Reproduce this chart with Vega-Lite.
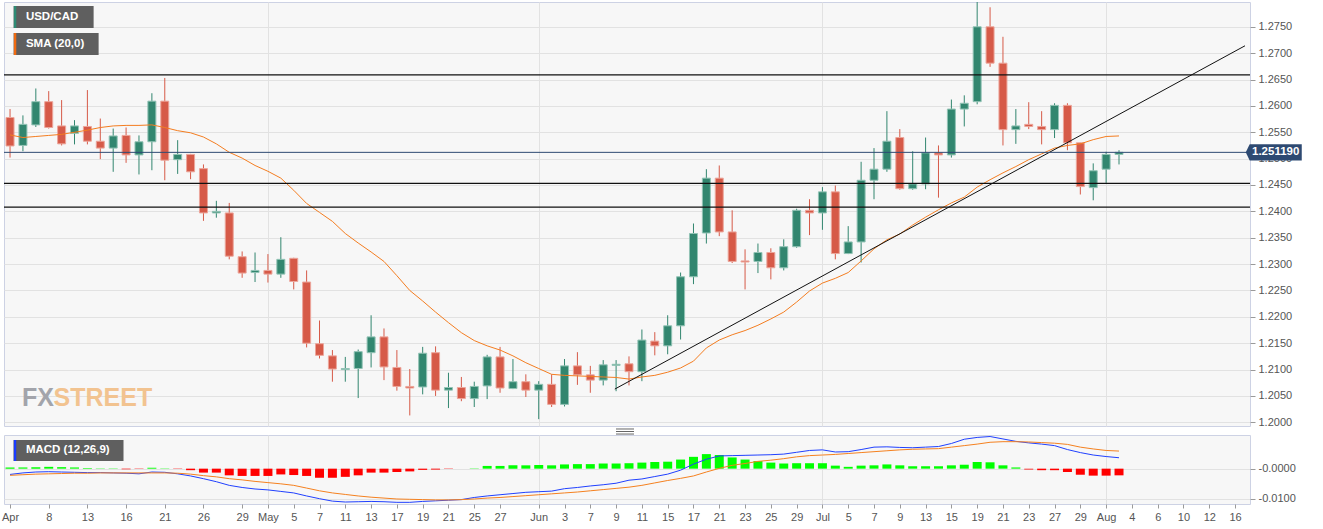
{
"$schema":"https://vega.github.io/schema/vega-lite/v6.json",
"background":"#ffffff",
"padding":{"left":0,"top":1,"right":0,"bottom":0},
"spacing":9,
"bounds":"flush",
"config":{
 "view":{"fill":"#f7f7f7","stroke":"#cdd2e4"},
 "axis":{"labelFont":"Liberation Sans","labelFontSize":11,"labelColor":"#555555","tickColor":"#9a9a9a","gridColor":"#e2e2e2","labelOverlap":false},
 "text":{"font":"Liberation Sans"}
},
"datasets":{
"d":[
{"i":0,"o":1.2578,"h":1.2594,"l":1.2502,"c":1.2524,"s":1.2545,"m":-0.0019,"g":-0.0022,"hist":0.0004},
{"i":1,"o":1.2525,"h":1.2582,"l":1.2514,"c":1.2565,"s":1.2540,"m":-0.0014,"g":-0.0020,"hist":0.0004},
{"i":2,"o":1.2564,"h":1.2633,"l":1.2560,"c":1.2608,"s":1.2542,"m":-0.0011,"g":-0.0018,"hist":0.0005},
{"i":3,"o":1.2608,"h":1.2628,"l":1.2557,"c":1.2559,"s":1.2544,"m":-0.0010,"g":-0.0017,"hist":0.0006},
{"i":4,"o":1.2562,"h":1.2611,"l":1.2525,"c":1.2528,"s":1.2546,"m":-0.0011,"g":-0.0016,"hist":0.0005},
{"i":5,"o":1.2548,"h":1.2573,"l":1.2527,"c":1.2562,"s":1.2550,"m":-0.0012,"g":-0.0015,"hist":0.0004},
{"i":6,"o":1.2561,"h":1.2630,"l":1.2527,"c":1.2533,"s":1.2554,"m":-0.0013,"g":-0.0015,"hist":0.0002},
{"i":7,"o":1.2533,"h":1.2576,"l":1.2499,"c":1.2520,"s":1.2559,"m":-0.0013,"g":-0.0014,"hist":0.0001},
{"i":8,"o":1.2520,"h":1.2557,"l":1.2475,"c":1.2543,"s":1.2562,"m":-0.0014,"g":-0.0014,"hist":0.0001},
{"i":9,"o":1.2544,"h":1.2559,"l":1.2492,"c":1.2507,"s":1.2563,"m":-0.0015,"g":-0.0014,"hist":-0.0002},
{"i":10,"o":1.2507,"h":1.2544,"l":1.2470,"c":1.2532,"s":1.2563,"m":-0.0017,"g":-0.0014,"hist":-0.0001},
{"i":11,"o":1.2532,"h":1.2624,"l":1.2478,"c":1.2609,"s":1.2564,"m":-0.0011,"g":-0.0014,"hist":0.0003},
{"i":12,"o":1.2609,"h":1.2653,"l":1.2459,"c":1.2497,"s":1.2559,"m":-0.0012,"g":-0.0014,"hist":0.0001},
{"i":13,"o":1.2498,"h":1.2535,"l":1.2471,"c":1.2508,"s":1.2553,"m":-0.0017,"g":-0.0015,"hist":-0.0001},
{"i":14,"o":1.2508,"h":1.2509,"l":1.2461,"c":1.2475,"s":1.2549,"m":-0.0024,"g":-0.0018,"hist":-0.0005},
{"i":15,"o":1.2481,"h":1.2489,"l":1.2382,"c":1.2397,"s":1.2541,"m":-0.0033,"g":-0.0023,"hist":-0.0013},
{"i":16,"o":1.2397,"h":1.2420,"l":1.2388,"c":1.2400,"s":1.2528,"m":-0.0043,"g":-0.0027,"hist":-0.0013},
{"i":17,"o":1.2397,"h":1.2416,"l":1.2309,"c":1.2315,"s":1.2512,"m":-0.0055,"g":-0.0033,"hist":-0.0022},
{"i":18,"o":1.2314,"h":1.2324,"l":1.2274,"c":1.2283,"s":1.2501,"m":-0.0062,"g":-0.0037,"hist":-0.0024},
{"i":19,"o":1.2284,"h":1.2322,"l":1.2266,"c":1.2288,"s":1.2487,"m":-0.0067,"g":-0.0042,"hist":-0.0024},
{"i":20,"o":1.2288,"h":1.2319,"l":1.2265,"c":1.2281,"s":1.2476,"m":-0.0070,"g":-0.0046,"hist":-0.0024},
{"i":21,"o":1.2281,"h":1.2351,"l":1.2274,"c":1.2309,"s":1.2463,"m":-0.0075,"g":-0.0050,"hist":-0.0019},
{"i":22,"o":1.2311,"h":1.2312,"l":1.2252,"c":1.2267,"s":1.2440,"m":-0.0080,"g":-0.0055,"hist":-0.0021},
{"i":23,"o":1.2266,"h":1.2288,"l":1.2142,"c":1.2150,"s":1.2415,"m":-0.0090,"g":-0.0064,"hist":-0.0024},
{"i":24,"o":1.2149,"h":1.2193,"l":1.2121,"c":1.2127,"s":1.2398,"m":-0.0099,"g":-0.0073,"hist":-0.0030},
{"i":25,"o":1.2126,"h":1.2137,"l":1.2077,"c":1.2101,"s":1.2381,"m":-0.0107,"g":-0.0080,"hist":-0.0030},
{"i":26,"o":1.2100,"h":1.2124,"l":1.2077,"c":1.2102,"s":1.2358,"m":-0.0110,"g":-0.0085,"hist":-0.0027},
{"i":27,"o":1.2102,"h":1.2138,"l":1.2046,"c":1.2134,"s":1.2340,"m":-0.0109,"g":-0.0090,"hist":-0.0022},
{"i":28,"o":1.2132,"h":1.2203,"l":1.2104,"c":1.2162,"s":1.2323,"m":-0.0108,"g":-0.0094,"hist":-0.0013},
{"i":29,"o":1.2162,"h":1.2178,"l":1.2080,"c":1.2105,"s":1.2305,"m":-0.0109,"g":-0.0097,"hist":-0.0013},
{"i":30,"o":1.2104,"h":1.2137,"l":1.2060,"c":1.2068,"s":1.2278,"m":-0.0111,"g":-0.0100,"hist":-0.0011},
{"i":31,"o":1.2068,"h":1.2101,"l":1.2013,"c":1.2065,"s":1.2250,"m":-0.0111,"g":-0.0101,"hist":-0.0009},
{"i":32,"o":1.2067,"h":1.2143,"l":1.2053,"c":1.2131,"s":1.2230,"m":-0.0108,"g":-0.0102,"hist":-0.0004},
{"i":33,"o":1.2132,"h":1.2144,"l":1.2050,"c":1.2061,"s":1.2209,"m":-0.0106,"g":-0.0103,"hist":-0.0003},
{"i":34,"o":1.2061,"h":1.2094,"l":1.2027,"c":1.2066,"s":1.2189,"m":-0.0104,"g":-0.0103,"hist":-0.0001},
{"i":35,"o":1.2066,"h":1.2086,"l":1.2040,"c":1.2045,"s":1.2170,"m":-0.0102,"g":-0.0102,"hist":0.0000},
{"i":36,"o":1.2045,"h":1.2077,"l":1.2029,"c":1.2068,"s":1.2155,"m":-0.0095,"g":-0.0100,"hist":0.0001},
{"i":37,"o":1.2069,"h":1.2128,"l":1.2044,"c":1.2124,"s":1.2145,"m":-0.0090,"g":-0.0097,"hist":0.0009},
{"i":38,"o":1.2124,"h":1.2143,"l":1.2056,"c":1.2065,"s":1.2137,"m":-0.0086,"g":-0.0095,"hist":0.0009},
{"i":39,"o":1.2064,"h":1.2120,"l":1.2063,"c":1.2077,"s":1.2126,"m":-0.0082,"g":-0.0092,"hist":0.0011},
{"i":40,"o":1.2077,"h":1.2091,"l":1.2048,"c":1.2061,"s":1.2113,"m":-0.0078,"g":-0.0089,"hist":0.0011},
{"i":41,"o":1.2061,"h":1.2078,"l":1.2006,"c":1.2072,"s":1.2102,"m":-0.0076,"g":-0.0086,"hist":0.0012},
{"i":42,"o":1.2072,"h":1.2091,"l":1.2029,"c":1.2034,"s":1.2091,"m":-0.0074,"g":-0.0083,"hist":0.0011},
{"i":43,"o":1.2034,"h":1.2120,"l":1.2030,"c":1.2107,"s":1.2089,"m":-0.0066,"g":-0.0080,"hist":0.0014},
{"i":44,"o":1.2107,"h":1.2133,"l":1.2071,"c":1.2090,"s":1.2088,"m":-0.0062,"g":-0.0077,"hist":0.0015},
{"i":45,"o":1.2090,"h":1.2107,"l":1.2056,"c":1.2080,"s":1.2087,"m":-0.0057,"g":-0.0073,"hist":0.0015},
{"i":46,"o":1.2080,"h":1.2118,"l":1.2070,"c":1.2109,"s":1.2086,"m":-0.0053,"g":-0.0069,"hist":0.0017},
{"i":47,"o":1.2108,"h":1.2118,"l":1.2059,"c":1.2110,"s":1.2085,"m":-0.0048,"g":-0.0065,"hist":0.0017},
{"i":48,"o":1.2111,"h":1.2125,"l":1.2070,"c":1.2096,"s":1.2082,"m":-0.0038,"g":-0.0061,"hist":0.0018},
{"i":49,"o":1.2096,"h":1.2176,"l":1.2078,"c":1.2156,"s":1.2086,"m":-0.0034,"g":-0.0055,"hist":0.0020},
{"i":50,"o":1.2154,"h":1.2171,"l":1.2127,"c":1.2145,"s":1.2089,"m":-0.0026,"g":-0.0047,"hist":0.0022},
{"i":51,"o":1.2145,"h":1.2203,"l":1.2129,"c":1.2183,"s":1.2095,"m":-0.0018,"g":-0.0039,"hist":0.0023},
{"i":52,"o":1.2183,"h":1.2284,"l":1.2157,"c":1.2276,"s":1.2103,"m":-0.0005,"g":-0.0032,"hist":0.0030},
{"i":53,"o":1.2276,"h":1.2377,"l":1.2262,"c":1.2358,"s":1.2116,"m":0.0015,"g":-0.0024,"hist":0.0039},
{"i":54,"o":1.2359,"h":1.2480,"l":1.2339,"c":1.2463,"s":1.2141,"m":0.0031,"g":-0.0011,"hist":0.0048},
{"i":55,"o":1.2463,"h":1.2487,"l":1.2353,"c":1.2361,"s":1.2156,"m":0.0042,"g":0.0001,"hist":0.0045},
{"i":56,"o":1.2361,"h":1.2402,"l":1.2302,"c":1.2305,"s":1.2166,"m":0.0043,"g":0.0011,"hist":0.0037},
{"i":57,"o":1.2306,"h":1.2328,"l":1.2252,"c":1.2304,"s":1.2174,"m":0.0044,"g":0.0017,"hist":0.0030},
{"i":58,"o":1.2305,"h":1.2339,"l":1.2283,"c":1.2322,"s":1.2184,"m":0.0045,"g":0.0024,"hist":0.0025},
{"i":59,"o":1.2322,"h":1.2330,"l":1.2271,"c":1.2293,"s":1.2196,"m":0.0046,"g":0.0028,"hist":0.0020},
{"i":60,"o":1.2293,"h":1.2347,"l":1.2288,"c":1.2333,"s":1.2209,"m":0.0048,"g":0.0033,"hist":0.0017},
{"i":61,"o":1.2333,"h":1.2405,"l":1.2331,"c":1.2402,"s":1.2228,"m":0.0054,"g":0.0039,"hist":0.0018},
{"i":62,"o":1.2402,"h":1.2423,"l":1.2355,"c":1.2397,"s":1.2249,"m":0.0060,"g":0.0043,"hist":0.0018},
{"i":63,"o":1.2397,"h":1.2446,"l":1.2365,"c":1.2437,"s":1.2264,"m":0.0062,"g":0.0045,"hist":0.0018},
{"i":64,"o":1.2437,"h":1.2449,"l":1.2309,"c":1.2320,"s":1.2273,"m":0.0055,"g":0.0047,"hist":0.0010},
{"i":65,"o":1.2320,"h":1.2372,"l":1.2319,"c":1.2342,"s":1.2284,"m":0.0056,"g":0.0050,"hist":0.0006},
{"i":66,"o":1.2342,"h":1.2494,"l":1.2303,"c":1.2459,"s":1.2306,"m":0.0063,"g":0.0053,"hist":0.0010},
{"i":67,"o":1.2459,"h":1.2520,"l":1.2423,"c":1.2480,"s":1.2329,"m":0.0071,"g":0.0056,"hist":0.0011},
{"i":68,"o":1.2480,"h":1.2590,"l":1.2475,"c":1.2533,"s":1.2346,"m":0.0072,"g":0.0059,"hist":0.0014},
{"i":69,"o":1.2540,"h":1.2556,"l":1.2441,"c":1.2443,"s":1.2357,"m":0.0070,"g":0.0062,"hist":0.0011},
{"i":70,"o":1.2443,"h":1.2514,"l":1.2441,"c":1.2452,"s":1.2374,"m":0.0069,"g":0.0064,"hist":0.0008},
{"i":71,"o":1.2452,"h":1.2540,"l":1.2442,"c":1.2511,"s":1.2389,"m":0.0071,"g":0.0065,"hist":0.0008},
{"i":72,"o":1.2511,"h":1.2525,"l":1.2426,"c":1.2507,"s":1.2403,"m":0.0073,"g":0.0066,"hist":0.0008},
{"i":73,"o":1.2507,"h":1.2612,"l":1.2502,"c":1.2594,"s":1.2416,"m":0.0083,"g":0.0071,"hist":0.0011},
{"i":74,"o":1.2594,"h":1.2620,"l":1.2561,"c":1.2605,"s":1.2427,"m":0.0097,"g":0.0076,"hist":0.0013},
{"i":75,"o":1.2608,"h":1.2807,"l":1.2603,"c":1.2750,"s":1.2446,"m":0.0103,"g":0.0081,"hist":0.0022},
{"i":76,"o":1.2750,"h":1.2787,"l":1.2674,"c":1.2681,"s":1.2460,"m":0.0106,"g":0.0087,"hist":0.0021},
{"i":77,"o":1.2681,"h":1.2731,"l":1.2525,"c":1.2555,"s":1.2473,"m":0.0098,"g":0.0089,"hist":0.0011},
{"i":78,"o":1.2555,"h":1.2594,"l":1.2528,"c":1.2562,"s":1.2485,"m":0.0090,"g":0.0089,"hist":0.0004},
{"i":79,"o":1.2565,"h":1.2607,"l":1.2556,"c":1.2561,"s":1.2498,"m":0.0085,"g":0.0088,"hist":-0.0003},
{"i":80,"o":1.2561,"h":1.2590,"l":1.2527,"c":1.2555,"s":1.2509,"m":0.0081,"g":0.0086,"hist":-0.0005},
{"i":81,"o":1.2555,"h":1.2605,"l":1.2539,"c":1.2601,"s":1.2520,"m":0.0076,"g":0.0084,"hist":-0.0005},
{"i":82,"o":1.2601,"h":1.2605,"l":1.2516,"c":1.2530,"s":1.2525,"m":0.0063,"g":0.0080,"hist":-0.0011},
{"i":83,"o":1.2530,"h":1.2530,"l":1.2432,"c":1.2447,"s":1.2528,"m":0.0053,"g":0.0071,"hist":-0.0020},
{"i":84,"o":1.2445,"h":1.2491,"l":1.2421,"c":1.2477,"s":1.2536,"m":0.0045,"g":0.0065,"hist":-0.0023},
{"i":85,"o":1.2480,"h":1.2513,"l":1.2454,"c":1.2508,"s":1.2542,"m":0.0040,"g":0.0060,"hist":-0.0023},
{"i":86,"o":1.2508,"h":1.2516,"l":1.2489,"c":1.2512,"s":1.2543,"m":0.0036,"g":0.0058,"hist":-0.0022}
],
"trend":[{"i":46.9,"p":1.2063},{"i":95.77,"p":1.2714}],
"levels":[{"p":1.2659},{"p":1.2453},{"p":1.2408}],
"price":[{"p":1.25119,"t":"1.251190"}]
},
"vconcat":[
{
 "width":1246,"height":424,
 "layer":[
  {"data":{"name":"d"},
   "mark":{"type":"rule","clip":true,"strokeWidth":1},
   "encoding":{
    "x":{"field":"i","type":"quantitative","scale":{"domain":[-0.08,95.77]},"axis":{"values":[20,41,63,85],"tickCount":100,"labels":false,"ticks":false,"domain":false,"grid":true,"title":null}},
    "y":{"field":"l","type":"quantitative","scale":{"domain":[1.1993,1.2797]},"axis":{"orient":"right","values":[1.2,1.205,1.21,1.215,1.22,1.225,1.23,1.235,1.24,1.245,1.25,1.255,1.26,1.265,1.27,1.275],"tickCount":100,"format":".4f","tickSize":5,"labelPadding":3,"domain":false,"grid":true,"labelOverlap":false,"title":null}},
    "y2":{"field":"h"},
    "color":{"condition":{"test":"datum.c >= datum.o","value":"#32866f"},"value":"#d65a48"}
   }},
  {"data":{"name":"d"},
   "mark":{"type":"bar","width":8,"clip":true,"strokeWidth":1},
   "encoding":{
    "x":{"field":"i","type":"quantitative","scale":{"domain":[-0.08,95.77]}},
    "y":{"field":"o","type":"quantitative","scale":{"domain":[1.1993,1.2797]}},
    "y2":{"field":"c"},
    "fill":{"condition":{"test":"datum.c >= datum.o","value":"#32866f"},"value":"#d65a48"},
    "stroke":{"condition":{"test":"datum.c >= datum.o","value":"#92c3b5"},"value":"#eca69b"}
   }},
  {"data":{"name":"d"},
   "mark":{"type":"line","color":"#f47d20","strokeWidth":1,"clip":true},
   "encoding":{
    "x":{"field":"i","type":"quantitative","scale":{"domain":[-0.08,95.77]}},
    "y":{"field":"s","type":"quantitative","scale":{"domain":[1.1993,1.2797]}}
   }},
  {"data":{"name":"trend"},
   "mark":{"type":"line","color":"#111111","strokeWidth":1,"clip":true},
   "encoding":{
    "x":{"field":"i","type":"quantitative","scale":{"domain":[-0.08,95.77]}},
    "y":{"field":"p","type":"quantitative","scale":{"domain":[1.1993,1.2797]}}
   }},
  {"data":{"name":"levels"},
   "mark":{"type":"rule","color":"#111111","strokeWidth":1.2},
   "encoding":{
    "y":{"field":"p","type":"quantitative","scale":{"domain":[1.1993,1.2797]}}
   }},
  {"data":{"name":"price"},
   "mark":{"type":"rule","color":"#2e4a72","strokeWidth":1},
   "encoding":{
    "y":{"field":"p","type":"quantitative","scale":{"domain":[1.1993,1.2797]}}
   }},
  {"data":{"name":"price"},
   "mark":{"type":"point","shape":"M-1,0L-0.86,-0.29L1,-0.29L1,0.29L-0.86,0.29Z","size":3136,"filled":true,"fill":"#2e4a72","opacity":1,"strokeWidth":0},
   "encoding":{
    "x":{"datum":98.0,"type":"quantitative","scale":{"domain":[-0.08,95.77]}},
    "y":{"field":"p","type":"quantitative","scale":{"domain":[1.1993,1.2797]}}
   }},
  {"data":{"name":"price"},
   "mark":{"type":"text","align":"center","baseline":"middle","color":"#ffffff","fontSize":11.5,"fontWeight":"bold","font":"Liberation Sans"},
   "encoding":{
    "x":{"datum":98.15,"type":"quantitative","scale":{"domain":[-0.08,95.77]}},
    "y":{"field":"p","type":"quantitative","scale":{"domain":[1.1993,1.2797]}},
    "text":{"field":"t"}
   }},
  {"data":{"values":[{"t":"USD/CAD"}]},
   "mark":{"type":"point","shape":"M-1,-0.275L1,-0.275L1,0.275L-1,0.275Z","size":6400,"filled":true,"fill":"#5f5f5f","opacity":1,"strokeWidth":0},
   "encoding":{
    "x":{"datum":3.38,"type":"quantitative","scale":{"domain":[-0.08,95.77]}},
    "y":{"datum":1.27685,"type":"quantitative","scale":{"domain":[1.1993,1.2797]}}
   }},
  {"data":{"values":[{"t":"USD/CAD"}]},
   "mark":{"type":"point","shape":"M-0.11,-1L0.11,-1L0.11,1L-0.11,1Z","size":484,"filled":true,"fill":"#2e8b74","opacity":1,"strokeWidth":0},
   "encoding":{
    "x":{"datum":0.39,"type":"quantitative","scale":{"domain":[-0.08,95.77]}},
    "y":{"datum":1.27685,"type":"quantitative","scale":{"domain":[1.1993,1.2797]}}
   }},
  {"data":{"values":[{"t":"USD/CAD"}]},
   "mark":{"type":"text","align":"left","baseline":"middle","color":"#ffffff","fontSize":11.5,"fontWeight":"bold","font":"Liberation Sans"},
   "encoding":{
    "x":{"datum":1.23,"type":"quantitative","scale":{"domain":[-0.08,95.77]}},
    "y":{"datum":1.27685,"type":"quantitative","scale":{"domain":[1.1993,1.2797]}},
    "text":{"field":"t"}
   }},
  {"data":{"values":[{"t":"SMA (20,0)"}]},
   "mark":{"type":"point","shape":"M-1,-0.259L1,-0.259L1,0.259L-1,0.259Z","size":7225,"filled":true,"fill":"#5f5f5f","opacity":1,"strokeWidth":0},
   "encoding":{
    "x":{"datum":3.574,"type":"quantitative","scale":{"domain":[-0.08,95.77]}},
    "y":{"datum":1.27173,"type":"quantitative","scale":{"domain":[1.1993,1.2797]}}
   }},
  {"data":{"values":[{"t":"SMA (20,0)"}]},
   "mark":{"type":"point","shape":"M-0.11,-1L0.11,-1L0.11,1L-0.11,1Z","size":484,"filled":true,"fill":"#f06a10","opacity":1,"strokeWidth":0},
   "encoding":{
    "x":{"datum":0.39,"type":"quantitative","scale":{"domain":[-0.08,95.77]}},
    "y":{"datum":1.27173,"type":"quantitative","scale":{"domain":[1.1993,1.2797]}}
   }},
  {"data":{"values":[{"t":"SMA (20,0)"}]},
   "mark":{"type":"text","align":"left","baseline":"middle","color":"#ffffff","fontSize":11.5,"fontWeight":"bold","font":"Liberation Sans"},
   "encoding":{
    "x":{"datum":1.23,"type":"quantitative","scale":{"domain":[-0.08,95.77]}},
    "y":{"datum":1.27173,"type":"quantitative","scale":{"domain":[1.1993,1.2797]}},
    "text":{"field":"t"}
   }},
  {"data":{"values":[{"t":"FX"}]},
   "mark":{"type":"text","align":"left","baseline":"alphabetic","color":"#a2a4ab","fontSize":25,"fontWeight":"bold","font":"Liberation Sans"},
   "encoding":{
    "x":{"datum":0.92,"type":"quantitative","scale":{"domain":[-0.08,95.77]}},
    "y":{"datum":1.20309,"type":"quantitative","scale":{"domain":[1.1993,1.2797]}},
    "text":{"field":"t"}
   }},
  {"data":{"values":[{"t":"STREET"}]},
   "mark":{"type":"text","align":"left","baseline":"alphabetic","color":"#f2c390","fontSize":25,"fontWeight":"bold","font":"Liberation Sans"},
   "encoding":{
    "x":{"datum":3.38,"type":"quantitative","scale":{"domain":[-0.08,95.77]}},
    "y":{"datum":1.20309,"type":"quantitative","scale":{"domain":[1.1993,1.2797]}},
    "text":{"field":"t"}
   }}
 ]
},
{
 "width":1246,"height":69,
 "layer":[
  {"data":{"name":"d"},
   "mark":{"type":"bar","width":9},
   "encoding":{
    "x":{"field":"i","type":"quantitative","scale":{"domain":[-0.08,95.77]},"axis":{"orient":"bottom","values":[0,3,6,9,12,15,18,20,22,24,26,28,30,32,34,36,38,41,43,45,47,49,51,53,55,57,59,61,63,65,67,69,71,73,75,77,79,81,83,85,87,89,91,93,95],"tickCount":100,"labelExpr":"['Apr','8','13','16','21','26','29','May','5','7','11','13','17','19','21','25','27','Jun','3','7','9','11','15','17','21','23','25','29','Jul','5','7','9','13','15','19','21','23','27','29','Aug','4','6','10','12','16'][indexof([0,3,6,9,12,15,18,20,22,24,26,28,30,32,34,36,38,41,43,45,47,49,51,53,55,57,59,61,63,65,67,69,71,73,75,77,79,81,83,85,87,89,91,93,95], datum.value)]","title":null,"tickSize":4,"labelPadding":3,"domain":false,"grid":true,"gridColor":{"condition":{"test":"indexof([20,41,63,85], datum.value) >= 0","value":"#e2e2e2"},"value":"rgba(0,0,0,0)"},"labelFlush":5,"labelOverlap":false}},
    "y":{"field":"hist","type":"quantitative","scale":{"domain":[-0.01165,0.0111]},"axis":{"orient":"right","values":[0,-0.01],"tickCount":100,"labelExpr":"datum.value == 0 ? '-0.0000' : '-0.0100'","title":null,"tickSize":5,"labelPadding":3,"domain":false,"grid":true,"labelOverlap":false}},
    "y2":{"datum":0},
    "color":{"condition":{"test":"datum.hist >= 0","value":"#00ff00"},"value":"#ff0000"}
   }},
  {"data":{"name":"d"},
   "mark":{"type":"line","color":"#2040ff","strokeWidth":1},
   "encoding":{
    "x":{"field":"i","type":"quantitative","scale":{"domain":[-0.08,95.77]}},
    "y":{"field":"m","type":"quantitative","scale":{"domain":[-0.01165,0.0111]}}
   }},
  {"data":{"name":"d"},
   "mark":{"type":"line","color":"#f5811f","strokeWidth":1},
   "encoding":{
    "x":{"field":"i","type":"quantitative","scale":{"domain":[-0.08,95.77]}},
    "y":{"field":"g","type":"quantitative","scale":{"domain":[-0.01165,0.0111]}}
   }},
  {"data":{"values":[{"t":"MACD (12,26,9)"}]},
   "mark":{"type":"point","shape":"M-1,-0.191L1,-0.191L1,0.191L-1,0.191Z","size":12100,"filled":true,"fill":"#5f5f5f","opacity":1,"strokeWidth":0},
   "encoding":{
    "x":{"datum":4.535,"type":"quantitative","scale":{"domain":[-0.08,95.77]}},
    "y":{"datum":0.00599,"type":"quantitative","scale":{"domain":[-0.01165,0.0111]}}
   }},
  {"data":{"values":[{"t":"MACD (12,26,9)"}]},
   "mark":{"type":"point","shape":"M-0.11,-1L0.11,-1L0.11,1L-0.11,1Z","size":441,"filled":true,"fill":"#1a3cff","opacity":1,"strokeWidth":0},
   "encoding":{
    "x":{"datum":0.39,"type":"quantitative","scale":{"domain":[-0.08,95.77]}},
    "y":{"datum":0.00599,"type":"quantitative","scale":{"domain":[-0.01165,0.0111]}}
   }},
  {"data":{"values":[{"t":"MACD (12,26,9)"}]},
   "mark":{"type":"text","align":"left","baseline":"middle","color":"#ffffff","fontSize":11.5,"fontWeight":"bold","font":"Liberation Sans"},
   "encoding":{
    "x":{"datum":1.23,"type":"quantitative","scale":{"domain":[-0.08,95.77]}},
    "y":{"datum":0.00599,"type":"quantitative","scale":{"domain":[-0.01165,0.0111]}},
    "text":{"field":"t"}
   }},
  {"data":{"values":[{"t":"grip"}]},
   "mark":{"type":"point","shape":"M-1,-0.28L1,-0.28M-1,0L1,0M-1,0.28L1,0.28","size":324,"filled":false,"stroke":"#666666","strokeWidth":1,"opacity":1},
   "encoding":{
    "x":{"datum":47.69,"type":"quantitative","scale":{"domain":[-0.08,95.77]}},
    "y":{"datum":0.01225,"type":"quantitative","scale":{"domain":[-0.01165,0.0111]}}
   }}
 ]
}
]
}
